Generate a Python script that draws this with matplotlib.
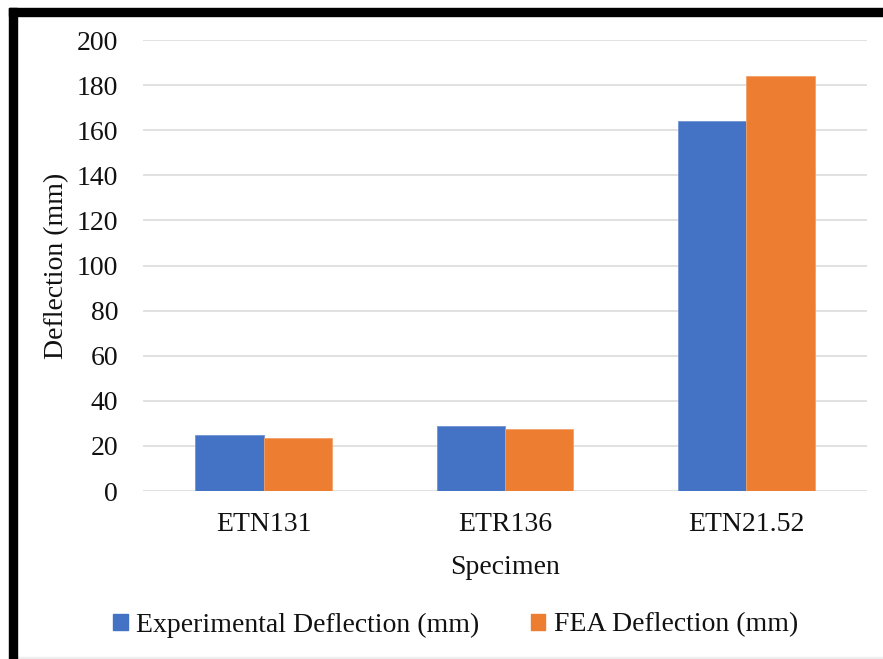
import matplotlib
matplotlib.use("Agg")
import matplotlib.pyplot as plt
import numpy as np
from matplotlib.patches import Patch, Rectangle

specimens = ["ETN131", "ETR136", "ETN21.52"]
experimental = [24.7, 28.8, 164.0]
fea = [23.4, 27.6, 184.2]
yticks = [0, 20, 40, 60, 80, 100, 120, 140, 160, 180, 200]

BLUE = "#4472C4"
ORANGE = "#ED7D31"
GRID = "#d9d9d9"
FS = 20

plt.rcParams["font.family"] = ["Liberation Serif", "DejaVu Serif"]

fig = plt.figure(figsize=(8.83, 6.59), dpi=100)
ax = fig.add_axes([0.162, 0.2549, 0.820, 0.6844])

x = np.arange(len(specimens))
w = 0.283
ax.bar(x - w / 2, experimental, w, color=BLUE, edgecolor="#6f93d4", linewidth=0.6, zorder=3)
ax.bar(x + w / 2, fea, w, color=ORANGE, edgecolor="#f2a06a", linewidth=0.6, zorder=3)

ax.set_xlim(-0.5, 2.5)
ax.set_ylim(0, 200)
ax.set_yticks(yticks)
ax.set_xticks(x)
ax.set_xticklabels(specimens)
ax.tick_params(axis="y", length=0, pad=18, labelsize=FS, colors="#111111")
ax.tick_params(axis="x", length=0, pad=15, labelsize=FS, colors="#111111")
ax.grid(axis="y", color=GRID, linewidth=1.1, zorder=0)
for s in ax.spines.values():
    s.set_visible(False)

ax.set_xlabel("Specimen", fontsize=FS, labelpad=13, color="#111111")
fig.text(57 / 883, 1 - 265.5 / 659, "Deflection (mm)", rotation=90, fontsize=FS,
         ha="center", va="center", color="#111111")

handles = [Patch(color=BLUE), Patch(color=ORANGE)]
fig.legend(handles, ["Experimental Deflection (mm)", "FEA Deflection (mm)"],
           loc="center", bbox_to_anchor=(0.516, 0.0516), ncol=2, frameon=False,
           fontsize=FS, handlelength=0.52, handleheight=0.52, handletextpad=0.3,
           columnspacing=1.85, labelcolor="#111111")

# thick frame on the top and left edges
fig.add_artist(Rectangle((9 / 883, 1 - 16 / 659), 874 / 883, 8 / 659,
                         transform=fig.transFigure, color="black", zorder=10))
fig.add_artist(Rectangle((9 / 883, 0), 8 / 883, 1 - 8 / 659,
                         transform=fig.transFigure, color="black", zorder=10))
fig.add_artist(Rectangle((17 / 883, 0), 866 / 883, 2 / 659,
                         transform=fig.transFigure, color="#eeeeee", zorder=9))

fig.savefig("out.png", dpi=100)
